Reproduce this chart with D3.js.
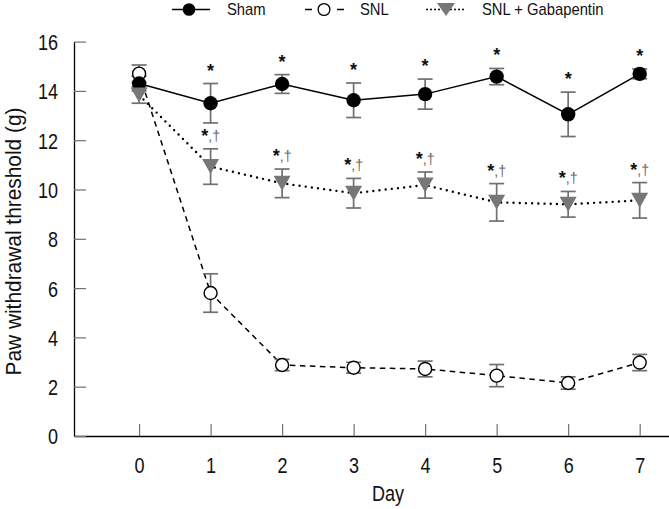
<!DOCTYPE html>
<html><head><meta charset="utf-8">
<script src="https://cdn.jsdelivr.net/npm/d3@7"></script>
<style>
body{margin:0;background:#fff;}
svg{display:block;font-family:"Liberation Sans",Arial,sans-serif;}
</style></head><body>
<svg id="c" width="669" height="509"></svg>
<script>
const days = [0,1,2,3,4,5,6,7];
const yTicks = [0,2,4,6,8,10,12,14,16];
const shamMean = [14.3,13.5,14.28,13.62,13.87,14.58,13.05,14.69];
const shamErr  = [0.3,0.8,0.38,0.7,0.61,0.33,0.9,0.2];
const snlMean  = [14.7,5.8,2.88,2.77,2.72,2.45,2.15,2.98];
const snlErr   = [0.35,0.78,0.23,0.22,0.32,0.45,0.25,0.33];
const gabMean  = [13.83,10.93,10.25,9.85,10.18,9.48,9.4,9.56];
const gabErr   = [0.33,0.72,0.58,0.6,0.53,0.76,0.52,0.72];
const shamMark = ["","*","*","*","*","*","*","*"];
const gabMark  = ["","*,†","*,†","*,†","*,†","*,†","*,†","*,†"];
const legendLabels = ["Sham","SNL","SNL + Gabapentin"];

const svg = d3.select("#c");
const x = d3.scaleLinear().domain([-0.91,7.41]).range([74,669]);
const y = d3.scaleLinear().domain([0,16]).range([436,41.6]);
const grey = "#707070", triGrey = "#777";
const SX = 0.82; // condensed look

// axes
const xAxis = d3.axisBottom(x).tickValues(days).tickSizeInner(-12).tickSizeOuter(0).tickFormat(d3.format("d"));
const gx = svg.append("g").attr("transform","translate(0,436)").call(xAxis);
gx.select(".domain").attr("stroke","#000").attr("stroke-width",1.3);
gx.selectAll(".tick line").attr("stroke",grey).attr("stroke-width",1.2);
gx.selectAll("text").attr("font-size",22).attr("fill","#111").attr("font-family","inherit")
  .attr("y",37.3).attr("dy",null).attr("transform",`scale(${SX},1)`);

const yAxis = d3.axisLeft(y).tickValues(yTicks).tickSizeInner(-12).tickSizeOuter(0);
const gy = svg.append("g").attr("transform","translate(74,0)").call(yAxis);
gy.select(".domain").attr("stroke","#000").attr("stroke-width",1.3);
gy.selectAll(".tick line").attr("stroke",grey).attr("stroke-width",1.2);
gy.selectAll("text").attr("font-size",22).attr("fill","#111").attr("font-family","inherit")
  .attr("x",-16/SX).attr("dy","0.36em").attr("transform",`scale(${SX},1)`);

svg.append("text").attr("transform",`translate(388,501) scale(${SX},1)`).attr("text-anchor","middle")
  .attr("font-size",22).attr("fill","#111").text("Day");
svg.append("text").attr("transform","translate(21,241.5) rotate(-90) scale(0.95,1)").attr("text-anchor","middle")
  .attr("font-size",22).attr("fill","#111").text("Paw withdrawal threshold (g)");

function series(mean){ return days.map((d,i)=>({d, v:mean[i]})); }
const line = d3.line().x(p=>x(p.d)).y(p=>y(p.v));
const sham = series(shamMean), snl = series(snlMean), gab = series(gabMean);

svg.append("path").datum(snl).attr("d",line).attr("fill","none").attr("stroke","#000").attr("stroke-width",1.5).attr("stroke-dasharray","5.5,4.5");
svg.append("path").datum(gab).attr("d",line).attr("fill","none").attr("stroke","#000").attr("stroke-width",2.4).attr("stroke-dasharray","0,6.2").attr("stroke-linecap","round");
svg.append("path").datum(sham).attr("d",line).attr("fill","none").attr("stroke","#000").attr("stroke-width",1.5);

function errBars(mean, err, cls){
  const g = svg.append("g").attr("class",cls).attr("stroke",grey).attr("stroke-width",1.7).attr("fill","none");
  days.forEach((d,i)=>{
    const cx = x(d), t = y(mean[i]+err[i]), b = y(mean[i]-err[i]);
    g.append("line").attr("x1",cx).attr("x2",cx).attr("y1",t).attr("y2",b);
    g.append("line").attr("x1",cx-7.5).attr("x2",cx+7.5).attr("y1",t).attr("y2",t);
    g.append("line").attr("x1",cx-7.5).attr("x2",cx+7.5).attr("y1",b).attr("y2",b);
  });
}
errBars(snlMean, snlErr, "e-snl");
errBars(shamMean, shamErr, "e-sham");
errBars(gabMean, gabErr, "e-gab");

function tri(cx, cy, w, h){ return `M${cx-w/2},${cy-h/2}L${cx+w/2},${cy-h/2}L${cx},${cy+h/2}Z`; }

svg.append("g").selectAll("circle").data(snl).join("circle")
  .attr("cx",p=>x(p.d)).attr("cy",p=>y(p.v)).attr("r",6.5).attr("fill","#fff").attr("stroke","#000").attr("stroke-width",1.4);
svg.append("g").selectAll("circle").data(sham).join("circle")
  .attr("cx",p=>x(p.d)).attr("cy",p=>y(p.v)).attr("r",7.2).attr("fill","#000");
svg.append("g").selectAll("path").data(gab).join("path")
  .attr("d",p=>tri(x(p.d), y(p.v), 17, 15)).attr("fill",triGrey);

// significance marks
function marks(mean, err, labels){
  days.forEach((d,i)=>{
    if(!labels[i]) return;
    const t = svg.append("text")
      .attr("transform",`translate(${x(d)},${y(mean[i]+err[i])-16+9}) scale(0.95,1)`)
      .attr("text-anchor","middle").attr("font-size",19).attr("font-weight","bold");
    const parts = labels[i].split(",");
    t.append("tspan").attr("fill","#111").text(parts[0]);
    if(parts.length>1) t.append("tspan").attr("fill","#666").attr("font-size",15).attr("font-weight","normal").attr("dy",-1).text(","+parts[1]);
  });
}
marks(shamMean, shamErr, shamMark);
marks(gabMean, gabErr, gabMark);

// legend
const ly = 9.5;
const lg = svg.append("g");
function legText(xp, s){
  lg.append("text").attr("transform",`translate(${xp},15.3) scale(0.87,1)`).attr("font-size",17).attr("fill","#111").text(s);
}
lg.append("line").attr("x1",172).attr("x2",210).attr("y1",ly).attr("y2",ly).attr("stroke","#000").attr("stroke-width",1.5);
lg.append("circle").attr("cx",189).attr("cy",ly).attr("r",6.3).attr("fill","#000");
legText(227, legendLabels[0]);
lg.append("line").attr("x1",305).attr("x2",345).attr("y1",ly).attr("y2",ly).attr("stroke","#000").attr("stroke-width",1.4).attr("stroke-dasharray","7,25");
lg.append("circle").attr("cx",324).attr("cy",ly).attr("r",5.9).attr("fill","#fff").attr("stroke","#000").attr("stroke-width",1.3);
legText(360, legendLabels[1]);
lg.append("line").attr("x1",427).attr("x2",466).attr("y1",ly).attr("y2",ly).attr("stroke","#000").attr("stroke-width",2).attr("stroke-dasharray","0,4").attr("stroke-linecap","round");
lg.append("path").attr("d",tri(446, ly, 18, 13)).attr("fill",triGrey);
legText(482, legendLabels[2]);
</script></body></html>
